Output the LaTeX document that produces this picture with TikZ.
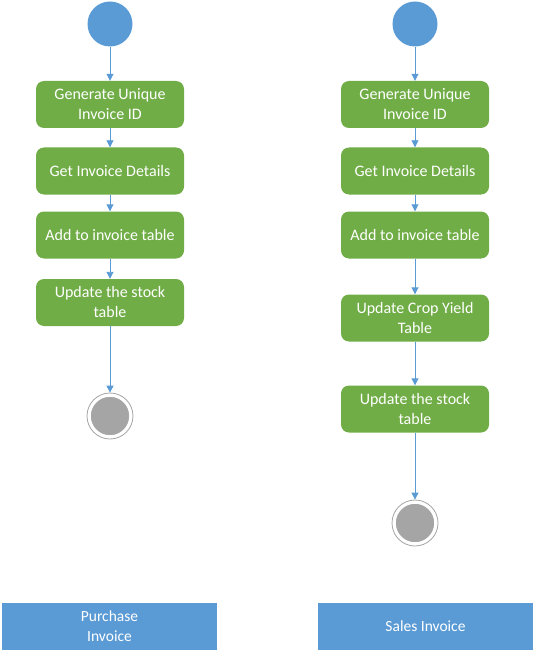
\documentclass[tikz,border=0pt]{standalone}
\usepackage{fontspec}
\setmainfont{Carlito}
\usetikzlibrary{arrows.meta}
\definecolor{actgreen}{HTML}{70AD47}
\definecolor{flowblue}{HTML}{5B9BD5}
\definecolor{endgray}{HTML}{A5A5A5}
\tikzset{
  activity/.style={rectangle, rounded corners=8pt, fill=actgreen, draw=none,
    text=white, align=center, minimum width=148pt, minimum height=47pt,
    font=\fontsize{16}{20}\selectfont},
  startdot/.style={circle, fill=flowblue, draw=none, minimum size=45pt, inner sep=0pt},
  enddot/.style={circle, fill=endgray, draw=white, line width=2.5pt,
    minimum size=41pt, inner sep=0pt},
  endring/.style={circle, draw=endgray, line width=0.8pt, minimum size=46pt, inner sep=0pt},
  lane/.style={rectangle, fill=flowblue, draw=none, text=white, align=center,
    minimum width=215pt, minimum height=47pt, font=\fontsize{15.5}{20}\selectfont},
  flow/.style={draw=flowblue, line width=0.9pt, -{Triangle[width=7pt,length=7pt]}}
}
\begin{document}
\begin{tikzpicture}[x=1pt, y=-1pt]
    \useasboundingbox (0,0) rectangle (535,655);

    % purchase invoice
    \node[startdot] (pstart) at (110,24) {};
    \node[activity] (pid)    at (110,104.5) {Generate Unique\\Invoice ID};
    \node[activity] (pget)   at (110,171) {Get Invoice Details};
    \node[activity] (padd)   at (110,235) {Add to invoice table};
    \node[activity] (pstock) at (110,302.5) {Update the stock\\table};
    \node[endring]  (pring)  at (110,416) {};
    \node[enddot]   (pend)   at (110,416) {};

    \draw[flow] (pstart) -- (pid);
    \draw[flow] (pid) -- (pget);
    \draw[flow] (pget) -- (padd);
    \draw[flow] (padd) -- (pstock);
    \draw[flow] (pstock) -- (pring);

    % sales invoice
    \node[startdot] (sstart) at (415,24) {};
    \node[activity] (sid)    at (415,104.5) {Generate Unique\\Invoice ID};
    \node[activity] (sget)   at (415,171) {Get Invoice Details};
    \node[activity] (sadd)   at (415,235) {Add to invoice table};
    \node[activity] (scrop)  at (415,318) {Update Crop Yield\\Table};
    \node[activity] (sstock) at (415,409) {Update the stock\\table};
    \node[endring]  (sring)  at (415,523) {};
    \node[enddot]   (send)   at (415,523) {};

    \draw[flow] (sstart) -- (sid);
    \draw[flow] (sid) -- (sget);
    \draw[flow] (sget) -- (sadd);
    \draw[flow] (sadd) -- (scrop);
    \draw[flow] (scrop) -- (sstock);
    \draw[flow] (sstock) -- (sring);

    \node[lane] (plane) at (109.5,626.5) {Purchase\\Invoice};
    \node[lane] (slane) at (425.5,626.5) {Sales Invoice};
\end{tikzpicture}
\end{document}
